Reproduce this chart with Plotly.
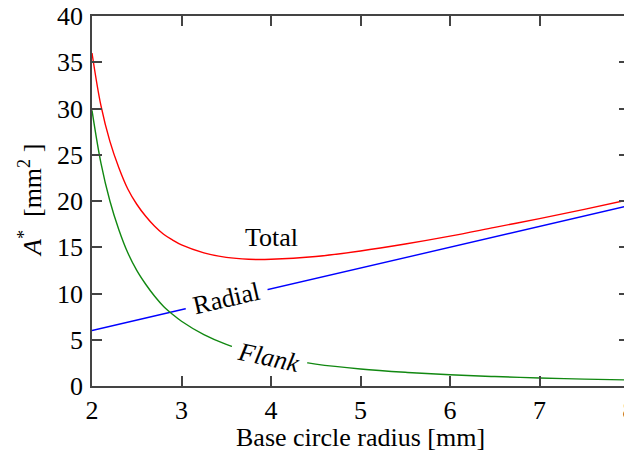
import plotly.graph_objects as go

# Base circle radius [mm]
radius = [2.0, 2.1, 2.2, 2.3, 2.4, 2.5, 2.6, 2.7, 2.8, 2.9, 3.0, 3.25, 3.5, 3.75,
          4.0, 4.5, 5.0, 5.5, 6.0, 6.5, 7.0, 7.5, 8.0]
flank = [29.8, 24.1, 20.0, 16.9, 14.4, 12.5, 11.0, 9.7, 8.6, 7.75, 7.0, 5.55, 4.5, 3.75,
         3.2, 2.37, 1.84, 1.48, 1.21, 1.02, 0.87, 0.745, 0.65]
radial = [6.0, 6.23, 6.45, 6.68, 6.9, 7.13, 7.35, 7.58, 7.8, 8.03, 8.25, 8.81, 9.38, 9.94,
          10.5, 11.63, 12.75, 13.88, 15.0, 16.13, 17.25, 18.38, 19.5]
total = [36.0, 30.3, 26.45, 23.6, 21.3, 19.65, 18.35, 17.27, 16.4, 15.78, 15.25, 14.4, 13.9, 13.7,
         13.7, 14.0, 14.6, 15.35, 16.2, 17.15, 18.1, 19.1, 20.15]

x_ticks = [2, 3, 4, 5, 6, 7, 8]
y_ticks = [0, 5, 10, 15, 20, 25, 30, 35, 40]

FONT = "Times New Roman, Liberation Serif, DejaVu Serif, serif"
FS = 26

fig = go.Figure()
fig.add_trace(go.Scatter(x=radius, y=total, mode="lines", name="Total",
                         line=dict(color="#ff0000", width=1.4, shape="spline")))
fig.add_trace(go.Scatter(x=radius, y=radial, mode="lines", name="Radial",
                         line=dict(color="#0000ff", width=1.4)))
fig.add_trace(go.Scatter(x=radius, y=flank, mode="lines", name="Flank",
                         line=dict(color="#118811", width=1.4, shape="spline")))

fig.add_annotation(x=4.0, y=16.1, text="Total", showarrow=False,
                   font=dict(family=FONT, size=FS, color="black"))
fig.add_annotation(x=3.5, y=9.45, text="&nbsp;Radial&nbsp;", showarrow=False,
                   textangle=-13, bgcolor="white", borderpad=1,
                   font=dict(family=FONT, size=FS, color="black"))
fig.add_annotation(x=3.98, y=3.1, text="&nbsp;<i>Flank</i>&nbsp;", showarrow=False,
                   textangle=12, bgcolor="white", borderpad=1,
                   font=dict(family=FONT, size=FS, color="black"))

# axis titles
fig.add_annotation(xref="paper", yref="paper", x=0.5, y=0, yshift=-51,
                   text="Base circle radius [mm]", showarrow=False,
                   xanchor="center", yanchor="middle",
                   font=dict(family=FONT, size=FS, color="black"))
fig.add_annotation(xref="paper", yref="paper", x=0, y=0.5, xshift=-62,
                   text="<i>A</i><sup>*</sup> &nbsp;[mm<sup>2</sup> ]", showarrow=False,
                   textangle=-90, xanchor="center", yanchor="middle",
                   font=dict(family=FONT, size=FS, color="black"))

axis_common = dict(
    showgrid=False, zeroline=False, automargin=False,
    showline=True, linecolor="#444444", linewidth=1.5, mirror="ticks",
    ticks="inside", ticklen=10, tickwidth=1.5, tickcolor="#444444",
    tickfont=dict(family=FONT, size=FS, color="black"),
    ticklabeloverflow="allow",
)

# page body has an 8px margin, so the figure is sized to fit the window
fig.update_layout(
    width=624, height=445,
    margin=dict(l=84, r=3, t=8, b=67),
    font=dict(family=FONT, size=FS, color="black"),
    paper_bgcolor="white", plot_bgcolor="white",
    showlegend=False,
    xaxis=dict(range=[2, 8], tickvals=x_ticks, **axis_common),
    yaxis=dict(range=[0, 40], tickvals=y_ticks, ticklabelstandoff=2, **axis_common),
)

fig.write_html("out.html")
